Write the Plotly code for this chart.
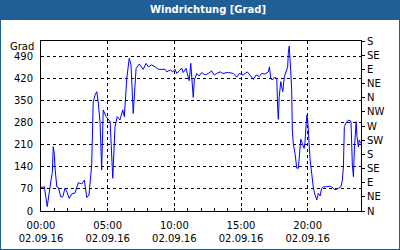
import plotly.graph_objects as go

# ---- data ----
day = "2016-09-02"
times = ["00:00","00:15","00:28","00:36","00:44","00:51","00:55","01:00","01:03","01:11",
         "01:18","01:29","01:38","01:48","01:57","02:07","02:18","02:33","02:48","03:03",
         "03:15","03:26","03:36","03:48","03:55","04:03","04:11","04:18","04:26","04:33",
         "04:36","04:40","04:53","05:11","05:23","05:33","05:43","05:55","06:08","06:15",
         "06:26","06:37","06:45","06:55","07:08","07:22","07:40","07:53","08:03","08:18",
         "08:33","08:48","09:18","09:26","09:41","09:53","10:03","10:11","10:22","10:33",
         "10:40","10:53","10:58","11:07","11:14","11:18","11:25","11:30","11:41","11:52",
         "12:03","12:18","12:33","12:48","12:59","13:11","13:26","13:38","14:03","14:25",
         "14:41","14:52","15:10","15:28","15:41","15:56","16:08","16:22","16:33","16:48",
         "17:03","17:08","17:14","17:21","17:30","17:41","17:45","17:48","17:52","17:59",
         "18:03","18:08","18:15","18:26","18:30","18:33","18:37","18:44","18:48","18:51",
         "18:55","19:03","19:11","19:18","19:22","19:29","19:36","19:44","19:48","19:53",
         "19:56","20:00","20:03","20:11","20:18","20:26","20:33","20:41","20:48","20:56",
         "21:03","21:11","21:26","21:41","21:56","22:03","22:18","22:30","22:36","22:41",
         "22:45","22:56","23:06","23:15","23:21","23:26","23:30","23:38","23:42","23:48",
         "23:52","23:59"]
degrees = [74,77,14,61,93,122,204,180,137,77,
           75,45,45,73,60,40,54,57,90,86,
           98,43,51,146,347,368,379,343,278,130,
           225,321,300,284,104,268,300,289,321,300,
           421,485,464,310,453,467,450,469,458,464,
           458,450,450,442,448,442,450,437,445,454,
           440,453,437,414,469,421,361,416,437,429,
           440,432,437,445,432,437,442,437,440,437,
           425,437,432,442,432,418,432,427,437,435,
           442,458,421,416,425,421,326,291,363,411,
           395,379,426,448,458,503,524,442,384,257,
           215,183,136,136,183,228,215,199,218,263,
           305,291,247,162,120,72,51,35,56,48,
           72,77,77,79,72,67,72,77,98,141,
           268,284,289,284,146,109,194,284,236,204,
           225,215]

left_ticks = [0, 70, 140, 210, 280, 350, 420, 490]
right_ticks = [0, 45, 90, 135, 180, 225, 270, 315, 360, 405, 450, 495, 540]
right_labels = ["N","NE","E","SE","S","SW","W","NW","N","NE","E","SE","S"]
x_tick_times = ["00:00","05:00","10:00","15:00","20:00"]
x_tick_date = "02.09.16"
title = "Windrichtung [Grad]"
unit = "Grad"

x = [f"{day} {t}:00" for t in times]

W, H = 400, 250
L, R, T, B = 41, 39, 41, 39
pw, ph = W - L - R, H - T - B
def px(xp): return (xp - L) / pw
def py(yp): return 1 - (yp - T) / ph

font = dict(family="DejaVu Sans", size=10, color="black")

fig = go.Figure()
fig.add_trace(go.Scatter(x=x, y=degrees, mode="lines",
                         line=dict(color="#0000ff", width=1), showlegend=False,
                         hoverinfo="skip"))
fig.add_trace(go.Scatter(x=x, y=degrees, mode="lines", yaxis="y2",
                         line=dict(color="rgba(0,0,0,0)", width=0), showlegend=False,
                         hoverinfo="skip"))

fig.update_layout(
    width=W, height=H,
    margin=dict(l=L, r=R, t=T, b=B, autoexpand=False),
    paper_bgcolor="white", plot_bgcolor="white",
    font=font,
    xaxis=dict(
        type="date", automargin=False,
        range=[f"{day} 00:00:00", "2016-09-03 00:00:00"],
        tickvals=[f"{day} {t}:00" for t in x_tick_times],
        ticktext=[f"{t}<br>{x_tick_date}" for t in x_tick_times],
        ticks="inside", ticklen=3, tickcolor="black",
        minor=dict(dtick=3600000, ticks="inside", ticklen=3, tickcolor="black", showgrid=False),
        showgrid=True, gridcolor="black", griddash="3px,3px", gridwidth=1,
        showline=True, linecolor="black", linewidth=1, mirror=True,
        zeroline=False, ticklabelstandoff=5, tickangle=0,
    ),
    yaxis=dict(
        range=[0, 540], tickvals=left_ticks, automargin=False,
        ticks="", showgrid=True, gridcolor="black", griddash="3px,3px", gridwidth=1,
        showline=True, linecolor="black", linewidth=1, mirror=True,
        zeroline=False, ticklabelstandoff=5,
    ),
    yaxis2=dict(
        overlaying="y", side="right", range=[0, 540], automargin=False,
        tickvals=right_ticks, ticktext=right_labels,
        ticks="outside", ticklen=3, tickcolor="black",
        showgrid=False, zeroline=False, showline=False,
    ),
    shapes=[
        dict(type="rect", xref="paper", yref="paper",
             x0=px(0), x1=px(W), y0=py(0), y1=py(20),
             fillcolor="#1f5f96", line=dict(width=0), layer="above"),
        dict(type="rect", xref="paper", yref="paper",
             x0=px(0), x1=px(W), y0=py(0), y1=py(H),
             fillcolor="rgba(0,0,0,0)", line=dict(color="#1f5f96", width=2), layer="above"),
    ],
    annotations=[
        dict(text=f"<b>{title}</b>", xref="paper", yref="paper",
             x=px(208), y=py(10), xanchor="center", yanchor="middle",
             showarrow=False, font=dict(family="DejaVu Sans", size=10, color="white")),
        dict(text=unit, xref="paper", yref="paper",
             x=px(36), y=py(46), xanchor="right", yanchor="middle",
             showarrow=False, font=font),
    ],
)

fig.write_html("out.html")
